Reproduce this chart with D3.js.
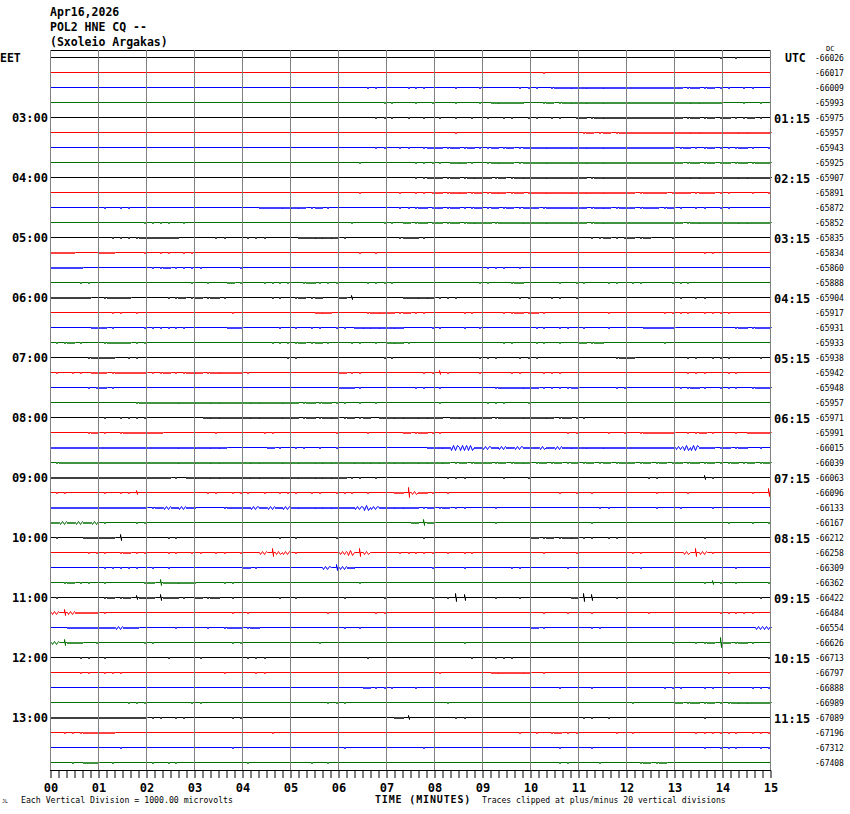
<!DOCTYPE html>
<html><head><meta charset="utf-8">
<script src="https://cdn.jsdelivr.net/npm/d3@7"></script>
<style>html,body{margin:0;padding:0;background:#fff;} svg{display:block;}</style>
</head><body>
<svg id="chart" width="850" height="814"></svg>
<script>
// ---------------- data ----------------
const titleLines = ["Apr16,2026", "POL2 HNE CQ --", "(Sxoleio Argakas)"];
const leftTimeLabels = ["03:00","04:00","05:00","06:00","07:00","08:00","09:00","10:00","11:00","12:00","13:00"];
const rightTimeLabels = ["01:15","02:15","03:15","04:15","05:15","06:15","07:15","08:15","09:15","10:15","11:15"];
const labelRows = [4,8,12,16,20,24,28,32,36,40,44];
const rowOffsets = [-66026,-66017,-66009,-65993,-65975,-65957,-65943,-65925,-65907,-65891,-65872,-65852,
  -65835,-65834,-65860,-65888,-65904,-65917,-65931,-65933,-65938,-65942,-65948,-65957,
  -65971,-65991,-66015,-66039,-66063,-66096,-66133,-66167,-66212,-66258,-66309,-66362,
  -66422,-66484,-66554,-66626,-66713,-66797,-66888,-66989,-67089,-67196,-67312,-67408];
const traceColors = ["#000000", "#ff0000", "#0000ff", "#007000"];
const minuteLabels = ["00","01","02","03","04","05","06","07","08","09","10","11","12","13","14","15"];
// activity per row, 10-second cells, grouped per minute ("_" = quiet minute)
// "." flat, "1" thickened noise band, "2"-"9" spiky noise band (px), "a"-"i" single spike (px)
const activity = [
"_ _ _ _ _ _ _ _ _ _ _ _ _ .....a .a....",
"_ _ _ _ _ _ _ _ _ _ .a.... _ _ _ _",
"_ _ _ _ _ _ ...aa. ..aaa. ..a..a ....aa a.a111 111111 111111 1a1a1a a.aa..",
"_ _ _ _ _ _ .....a a..a.a ..a..a .1111. .a1a11 111111 111111 111111 ..a.a.",
"_ _ _ _ _ _ ....aa a.a.a. a.a.a. a.aa.a a.aa.a 1a1111 111111 1a1a1a 1aa1a.",
"_ _ _ _ _ _ _ _ ..a... _ _ a1a1a1 111111 111111 111111",
"_ _ _ _ _ _ ....aa .aa.a1 1a1a1a a1a1a1 111111 111111 111111 a1aa1a aa1a.a",
"_ _ _ _ _ _ ..a... ...aaa a.11a. a111a1 111111 111111 111111 1a1a1a 1a1a11",
"_ _ _ _ _ _ _ ...aa1 1a1a11 1a1a11 111111 1a1111 111111 111111 111111",
"_ _ _ _ _ _ ..a... .a.aaa 1a11a1 a11a1a 111111 111111 1a111a 11a11a a..a.a",
"_ a.aa.. _ _ ..1111 11a1a. _ .aaa1a 1a1aa1 a1a1a1 1a1111 1a11a1 1a11a1 a.aa.a a.....",
"_ .....a aaa.a. _ _ _ .a...a a.1a1a 1a1a11 1a1111 111111 1a1111 111111 1a1111 111111",
"_ .aaaa1 1111.. ..aa.. aaa... .11111 a..... .a11a. _ _ _ .aa1aa 1a1..a _ _",
"111... 11...a .aa.aa _ _ _ ..a.a. _ _ _ _ _ _ ...aa. _",
"1111.. _ aa1aaa a....a _ _ _ _ _ aaa.a. _ _ _ _ _",
"...aa. _ .....a .a..1a ..aaaa .a1aaa ...aaa a..... .....a a..a1. ...a.a a..aa. aa...a aa.... _",
"11111. a111.. ..aa1a 1a1a.. ...aa. a1a1.. 1b.... ..1111 aaa... ....aa ..aa.a _ _ a.aa.. _",
"_ .aa.a. _ ....a. _ ...11. ...a11 1a1aa. ...aa. ..aa1a 1a.... ...a.. ....aa aa.aaa a.....",
".....1 1a...a aaaaa. ....11 ....a. a.aa.a a.1111 11...a a..a.a _ aa.aa. a..a.. ..1111 _ .a1a11",
"aa1a.. a111aa _ _ ...aaa a1a1a. .aa.a. 11a... _ ..aa.. aa.a.. 1a1... ....a. _ _",
"....a1 11.aa. _ _ .....a a..... .....a a..... .....a aa..aa a..... ....a1 1..... .aa.aa a...a.",
"a.aa.1 1a1111 aa1aa1 1a1111 a..... _ 1aa... ....aa ba...a ...aa. .aaa.. _ _ .aaa.. aa....",
"....aa 1a.... _ _ _ _ 11a... ...aa. a..... .a1111 1aaaa1 ....aa _ aa1a.a aa.a11",
"_ ....a1 111111 111111 111111 1a1a1a a.a.a. _ a..... aaa..a _ _ _ _ _",
"_ a.aaaa _ .11111 111111 1a1a11 a1a1.1 111111 1.1111 1a1111 111a1a a..... _ _ _",
"....a1 a.a111 11.... ..a... ..aa.. .....a ...a.. ..1a1a a..... _ ....aa ...a.a .a1111 .aa1a. .a.111",
"111111 111111 111111 1111.. ...1a. aa.a.a _ .....1 113331 212121 121211 111111 111111 23311a 1a1.a.",
"a11111 111111 111111 111111 111111 111111 111111 111111 11a1a1 1a1a11 a1a1a1 a1a1a1 1a1a1a 1a1a1a a1a1a1",
"111111 111111 111a.1 111111 111111 111111 1aa.a. _ .aaa.. ..a..a _ _ ..aa.. ...ba. _",
"aa.... a.aab. _ .aa.aa a.a.aa a.aa.a aa.a.. .1e21a .a.... _ ...a.a .a.... ...a.. .a.... ...a.d",
"111111 111111 a12121 ...a11 121212 111111 112321 1111a1 a1aa.. .a.... _ ..aa.. ...a.. a...a. _",
"121212 a...aa _ _ _ _ _ ...1c1 _ .a.... _ .a.... _ _ a..a.a",
"a...11 11c... ..aa.. _ ....a. a....a _ ....a. _ _ 1a1a11 aa.aa. _ ...a.. _",
"....aa a.a1aa ..aa.a a.aa.a ..2d22 a..... 23d2.. .aaaaa .a.aa. _ .a...a _ aa.... .2d2a. _",
"_ aaaaa. a.a... _ 1a.... ....2c 21.... .....a ...a.. ...aa. ....a. _ .a.... _ .a....",
".a1aa. a....a 1c1111 ...aa. _ _ ..a... _ _ _ _ _ _ ...aba .a...a",
"a..... a1a1b1 1c11a. 1a1.a. ....a. a..... a....a .....a .adc.. .a..a. .....1 dc..a. _ _ ....a.",
"2c2111 a..... _ ....a. a..... ....a. ....aa _ _ _ .a..a. .a.... ..a... .....a aaaa..",
"..1111 11211. ...a.. .a.a11 a1.... _ a.a... _ _ _ 1a.... .aa... _ _ ....22",
"2c11.a .....a a..... ....aa _ ...a.. _ _ ...a.. _ _ _ .....a ..aa1e 1a1a..",
"...aa. a..... ..a... a..... aaa... _ ...a.. _ ....a. .aaa.. _ _ _ _ .....a",
"...aa. aaa... _ ...a.. .aa... _ _ _ a..... .11111 .a.... _ _ _ a.....",
"_ _ _ _ _ _ ...1aa a..a.. _ _ ...a.. .a.... ....aa a..aa. ...aaa",
"_ ...aaa .....a a..... _ ....aa a..... _ .a.... _ _ _ a..... 1a1a1a a11111",
"111111 111111 aa.aa. ....aa _ _ _ .1b... ..aa.. _ _ aa.a.. _ ...a.. _",
".aaa11 11.... _ _ ...a.. _ _ _ _ ....a. a.a1aa ....a. a..... ..aaaa aa.aaa",
"_ ..a... _ ....a. _ _ a..... ....a. _ _ ...a.. .a.... _ ...a.a aa..aa",
"..a.11 .a.... a.aa.. _ a..... ..a.a. _ _ _ _ ...aa. ..a... .a1a1. _ _"
];

// ---------------- drawing ----------------
const svg = d3.select("#chart");
const MONO = "'DejaVu Sans Mono', 'Liberation Mono', monospace";
const x = d3.scaleLinear().domain([0, 15]).range([50.5, 770.5]);
const y = d3.scaleLinear().domain([0, 47]).range([57.5, 762.5]);
const amp = d3.scaleLinear().domain([0, 1]).range([0, 1]);
const cellMin = 15 / 90;

function tracePoints(str, i) {
  const s = str.trim().split(/\s+/).map(g => g === "_" ? "......" : g).join("");
  const base = y(i);
  const pts = [[x(0), base]];
  for (let k = 0; k < s.length; k++) {
    const c = s[k];
    if (c === ".") continue;
    const x0 = Math.round(x(k * cellMin)) + 0.5, x1 = Math.round(x((k + 1) * cellMin)) + 0.5;
    if (c >= "1" && c <= "9") {
      const d = +c;
      pts.push([x0, base]);
      if (d === 1) {
        for (let px = x0; px < x1; px += 2) {
          pts.push([px, base + amp(1)], [px + 1, base + amp(1)], [px + 1, base], [Math.min(px + 2, x1), base]);
        }
      } else {
        let down = true;
        for (let px = x0 + 1; px < x1; px += 2) {
          pts.push([px, down ? base + amp(d) : base - amp(d - 1)]);
          down = !down;
        }
      }
      pts.push([x1, base]);
    } else {
      const n = c.charCodeAt(0) - 96;
      const xc = Math.round((x0 + x1) / 2) + 0.5;
      if (n === 1) {
        pts.push([xc, base], [xc, base + amp(1)], [xc + 1, base + amp(1)], [xc + 1, base]);
      } else {
        pts.push([xc, base], [xc, base - amp(n)], [xc + 1, base + amp(n)], [xc + 1, base]);
      }
    }
  }
  pts.push([x(15), base]);
  return pts;
}

const line = d3.line();
svg.append("g").selectAll("path").data(activity).join("path")
  .attr("d", (d, i) => line(tracePoints(d, i)))
  .attr("fill", "none")
  .attr("stroke", (d, i) => traceColors[i % 4])
  .attr("stroke-width", 1);

// top frame
svg.append("line").attr("x1", x(0) - 0.5).attr("x2", x(15) + 0.5)
  .attr("y1", 50.5).attr("y2", 50.5).attr("stroke", "#000").attr("stroke-width", 1);

// vertical minute grid
svg.append("g").selectAll("line").data(d3.range(0, 16)).join("line")
  .attr("x1", d => x(d)).attr("x2", d => x(d))
  .attr("y1", 50).attr("y2", 770)
  .attr("stroke", "#808080").attr("stroke-width", 1);

// bottom axis
const axis = d3.axisBottom(x)
  .tickValues(d3.range(0, 91).map(k => k / 6))
  .tickSize(8).tickSizeOuter(0)
  .tickFormat((d, i) => i % 6 === 0 ? minuteLabels[i / 6] : "");
const ax = svg.append("g").attr("transform", "translate(0,770)").call(axis);
ax.select(".domain").attr("stroke", "#000").attr("d", `M${x(0) - 0.5},0.5H${x(15) + 0.5}`);
ax.selectAll(".tick line").attr("stroke", "#000").attr("y1", 0.5);
ax.selectAll(".tick text").attr("y", 22).attr("dy", null)
  .attr("font-family", MONO).attr("font-weight", "bold").attr("font-size", 12).attr("fill", "#000");

// title
svg.append("g").selectAll("text").data(titleLines).join("text")
  .attr("x", 50).attr("y", (d, i) => 16 + i * 15)
  .attr("font-family", MONO).attr("font-weight", "bold").attr("font-size", 11.5)
  .text(d => d);

// left / right time labels
svg.append("text").attr("x", 0).attr("y", 61.5).attr("font-family", MONO)
  .attr("font-weight", "bold").attr("font-size", 11.5).text("EET");
svg.append("text").attr("x", 785).attr("y", 61.5).attr("font-family", MONO)
  .attr("font-weight", "bold").attr("font-size", 11.5).text("UTC");
svg.append("g").selectAll("text").data(leftTimeLabels).join("text")
  .attr("x", 48).attr("y", (d, i) => y(labelRows[i]) + 4.5)
  .attr("text-anchor", "end")
  .attr("font-family", MONO).attr("font-weight", "bold").attr("font-size", 12)
  .text(d => d);
svg.append("g").selectAll("text").data(rightTimeLabels).join("text")
  .attr("x", 774).attr("y", (d, i) => y(labelRows[i]) + 5)
  .attr("font-family", MONO).attr("font-weight", "bold").attr("font-size", 12)
  .text(d => d);

// right offset values
svg.append("g").selectAll("text").data(rowOffsets).join("text")
  .attr("x", 815).attr("y", (d, i) => y(i) + 3)
  .attr("font-family", MONO).attr("font-size", 8)
  .text(d => String(d));
svg.append("text").attr("x", 826).attr("y", 51).attr("font-family", MONO)
  .attr("font-size", 7).text("DC");

// footer
svg.append("text").attr("x", 2).attr("y", 803).attr("font-family", MONO)
  .attr("font-size", 5).text("JL");
svg.append("text").attr("x", 21).attr("y", 803).attr("font-family", MONO)
  .attr("font-size", 8.2).text("Each Vertical Division = 1000.00 microvolts");
svg.append("text").attr("x", 375).attr("y", 803).attr("font-family", MONO)
  .attr("font-weight", "bold").attr("font-size", 10).attr("letter-spacing", 0.85)
  .text("TIME (MINUTES)");
svg.append("text").attr("x", 482).attr("y", 803).attr("font-family", MONO)
  .attr("font-size", 8.1).text("Traces clipped at plus/minus 20 vertical divisions");
</script>
</body></html>
